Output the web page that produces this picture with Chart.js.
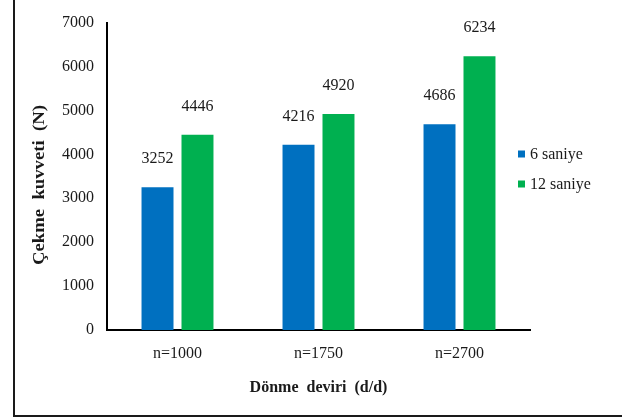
<!DOCTYPE html>
<html>
<head>
<meta charset="utf-8">
<script src="https://cdn.jsdelivr.net/npm/chart.js@4.4.1/dist/chart.umd.min.js"></script>
<style>
  html, body { margin: 0; padding: 0; background: #ffffff; }
  #wrap { width: 622px; height: 418px; }
</style>
</head>
<body>
<div id="wrap"><canvas id="c" width="622" height="418"></canvas></div>
<script>
// Rotation speed categories and pulling force (N) for each holding time
const categories = ['n=1000', 'n=1750', 'n=2700'];
const series6s = [3252, 4216, 4686];
const series12s = [4446, 4920, 6234];
const seriesNames = ['6 saniye', '12 saniye'];
const yTicks = [0, 1000, 2000, 3000, 4000, 5000, 6000, 7000];
const xTitle = 'Dönme  deviri  (d/d)';
const yTitle = 'Çekme  kuvveti  (N)';

const BLUE = '#0070C0';
const GREEN = '#00B050';
const SERIF = '"Liberation Serif", "Times New Roman", serif';
const TEXT = '#1a1a1a';

// Frame, axis titles, value labels and legend
const decor = {
  id: 'decor',
  beforeDraw(chart) {
    const ctx = chart.ctx;
    ctx.save();
    ctx.fillStyle = '#ffffff';
    ctx.fillRect(0, 0, chart.width, chart.height);
    ctx.restore();
  },
  afterDraw(chart) {
    const ctx = chart.ctx;
    const area = chart.chartArea;
    ctx.save();

    // outer frame (left and bottom edges)
    ctx.strokeStyle = '#1a1a1a';
    ctx.lineWidth = 2;
    ctx.beginPath();
    ctx.moveTo(14, 0);
    ctx.lineTo(14, 416);
    ctx.lineTo(chart.width, 416);
    ctx.stroke();

    // value labels above each bar
    ctx.fillStyle = TEXT;
    ctx.font = '16px ' + SERIF;
    ctx.textAlign = 'center';
    ctx.textBaseline = 'alphabetic';
    chart.data.datasets.forEach((ds, i) => {
      const meta = chart.getDatasetMeta(i);
      meta.data.forEach((bar, j) => {
        ctx.fillText(String(ds.data[j]), bar.x, bar.y - 24);
      });
    });

    // x axis title
    ctx.font = 'bold 16px ' + SERIF;
    ctx.textBaseline = 'middle';
    ctx.fillText(xTitle, (area.left + area.right) / 2, 388);

    // y axis title, rotated
    ctx.save();
    ctx.translate(40, 185);
    ctx.rotate(-Math.PI / 2);
    const w = ctx.measureText(yTitle).width;
    ctx.scale(160 / w, 1);
    ctx.fillText(yTitle, 0, 0);
    ctx.restore();

    // legend
    ctx.font = '16px ' + SERIF;
    ctx.textAlign = 'left';
    const ly = [154, 184];
    chart.data.datasets.forEach((ds, i) => {
      ctx.fillStyle = ds.backgroundColor;
      ctx.fillRect(518, ly[i] - 3.5, 7, 7);
      ctx.fillStyle = TEXT;
      ctx.textBaseline = 'middle';
      ctx.fillText(ds.label, 530, ly[i] + 1);
    });

    ctx.restore();
  }
};

new Chart(document.getElementById('c'), {
  type: 'bar',
  data: {
    labels: categories,
    datasets: [
      { label: seriesNames[0], data: series6s, backgroundColor: BLUE },
      { label: seriesNames[1], data: series12s, backgroundColor: GREEN }
    ]
  },
  options: {
    responsive: false,
    animation: false,
    devicePixelRatio: 1,
    layout: { padding: { top: 20, right: 92, bottom: 0, left: 0 } },
    datasets: {
      bar: { categoryPercentage: 0.567, barPercentage: 0.8 }
    },
    plugins: {
      legend: { display: false },
      tooltip: { enabled: false }
    },
    scales: {
      x: {
        grid: { display: false, drawTicks: false },
        border: { display: true, color: '#000000', width: 2 },
        ticks: { color: TEXT, font: { family: SERIF, size: 16 }, padding: 14 },
        afterFit(scale) { scale.height = 88; }
      },
      y: {
        min: 0,
        max: 7000,
        afterBuildTicks(scale) { scale.ticks = yTicks.map(v => ({ value: v })); },
        grid: { display: false, drawTicks: false },
        border: { display: true, color: '#000000', width: 2 },
        ticks: {
          color: TEXT,
          font: { family: SERIF, size: 16 },
          padding: 13,
          callback: (value) => String(value)
        },
        afterFit(scale) { scale.width = 107; }
      }
    }
  },
  plugins: [decor]
});
</script>
</body>
</html>
